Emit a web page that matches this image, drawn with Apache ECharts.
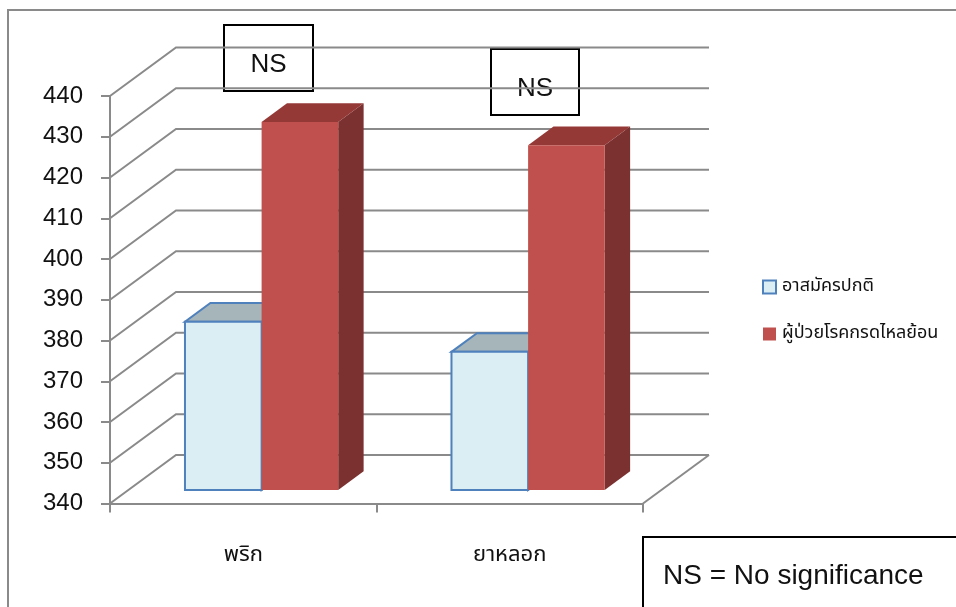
<!DOCTYPE html>
<html>
<head>
<meta charset="utf-8">
<script src="https://cdn.jsdelivr.net/npm/echarts@6/dist/echarts.min.js"></script>
<style>html,body{margin:0;padding:0;background:#fff}#c{width:956px;height:607px}</style>
</head>
<body>
<div id="c"></div>
<script>
// ---- data ----
const categories = ['พริก', 'ยาหลอก'];
const seriesNames = ['อาสมัครปกติ', 'ผู้ป่วยโรคกรดไหลย้อน'];
const normalValues = [381.3, 373.9];
const refluxValues = [430.3, 424.6];
const yTicks = [340, 350, 360, 370, 380, 390, 400, 410, 420, 430, 440];
const nsLabels = ['NS', 'NS'];
const noteText = 'NS = No significance';

// ---- style / layout ----
const DX = 66, DY = -48.5;          // depth of 3D box
const F0 = 0.278, FD = 0.385;       // bar front offset / bar depth (fraction of depth)
const BAR_FRAC = 0.2875;            // bar width / category band
const GRID_COLOR = '#8a8a8a';
const FONT = '"Liberation Sans", Arial, sans-serif';
const THAI = '"Noto Sans Thai", "Noto Sans", "DejaVu Sans", sans-serif';

const yMin = yTicks[0], yMax = yTicks[yTicks.length - 1];

function wallRender(params, api) {
  const v = api.value(1);
  const cs = params.coordSys;
  const y = api.coord([0, v])[1];
  const x0 = cs.x, x1 = cs.x + cs.width;
  const children = [{
    type: 'polyline',
    shape: { points: [[x0, y], [x0 + DX, y + DY], [x1 + DX, y + DY]] },
    style: { stroke: GRID_COLOR, lineWidth: 2, fill: null }
  }];
  if (v === yMin) {
    children.push({
      type: 'line',
      shape: { x1: x1, y1: y, x2: x1 + DX, y2: y + DY },
      style: { stroke: GRID_COLOR, lineWidth: 2 }
    });
  }
  return { type: 'group', children: children };
}

function barRender(side, colors) {
  return function (params, api) {
    const ci = api.value(0), v = api.value(1);
    const c = api.coord([ci, v]);
    const base = api.coord([ci, yMin]);
    const band = api.size([1, 0])[0];
    const bw = band * BAR_FRAC;
    const sx = DX * F0, sy = DY * F0;
    const dx = DX * FD, dy = DY * FD;
    const xl = (side === 0 ? c[0] - bw : c[0]) + sx;
    const xr = xl + bw;
    const top = c[1] + sy, bot = base[1] + sy;
    return {
      type: 'group',
      children: [
        { type: 'polygon', shape: { points: [[xr, top], [xr + dx, top + dy], [xr + dx, bot + dy], [xr, bot]] },
          style: { fill: colors.side, stroke: colors.stroke, lineWidth: colors.lw } },
        { type: 'polygon', shape: { points: [[xl, top], [xr, top], [xr + dx, top + dy], [xl + dx, top + dy]] },
          style: { fill: colors.top, stroke: colors.stroke, lineWidth: colors.lw } },
        { type: 'rect', shape: { x: xl, y: top, width: bw, height: bot - top },
          style: { fill: colors.front, stroke: colors.stroke, lineWidth: colors.lw } }
      ]
    };
  };
}

const blueColors = { front: '#DBEEF4', top: '#A5B5BA', side: '#B7C9CF', stroke: '#4F81BD', lw: 2 };
const redColors = { front: '#C0504D', top: '#953937', side: '#7A3130', stroke: null, lw: 0 };

const chart = echarts.init(document.getElementById('c'), null, { renderer: 'canvas' });
chart.setOption({
  animation: false,
  backgroundColor: '#fff',
  grid: { left: 110, top: 96, width: 533, height: 407.5, containLabel: false },
  xAxis: {
    type: 'category',
    data: categories,
    boundaryGap: true,
    axisLine: { lineStyle: { color: GRID_COLOR, width: 2 } },
    axisTick: { show: true, length: 9, lineStyle: { color: GRID_COLOR, width: 2 } },
    axisLabel: { margin: 42, fontSize: 22, color: '#111', fontFamily: THAI },
    splitLine: { show: false }
  },
  yAxis: {
    type: 'value',
    min: yMin, max: yMax, interval: 10,
    axisLine: { show: true, lineStyle: { color: GRID_COLOR, width: 2 } },
    axisTick: { show: true, length: 9, lineStyle: { color: GRID_COLOR, width: 2 } },
    axisLabel: { margin: 27, fontSize: 24, color: '#111', fontFamily: FONT },
    splitLine: { show: false }
  },
  legend: {
    orient: 'vertical',
    left: 762, top: 278, padding: 0,
    itemWidth: 13, itemHeight: 13, itemGap: 29,
    icon: 'rect',
    textStyle: { fontSize: 18, color: '#111', fontFamily: THAI, padding: [0, 0, 0, 1] },
    data: [
      { name: seriesNames[0], itemStyle: { color: '#DBEEF4', borderColor: '#4F81BD', borderWidth: 2 } },
      { name: seriesNames[1], itemStyle: { color: '#C0504D', borderWidth: 0 } }
    ]
  },
  series: [
    {
      type: 'custom', name: 'walls', clip: false, silent: true, z: 1,
      data: yTicks.map(function (t) { return [0, t]; }),
      encode: { x: 0, y: 1 },
      renderItem: wallRender
    },
    {
      type: 'custom', name: seriesNames[0], clip: false, z: 2,
      itemStyle: { color: '#DBEEF4', borderColor: '#4F81BD' },
      data: normalValues.map(function (v, i) { return [i, v]; }),
      encode: { x: 0, y: 1 },
      renderItem: barRender(0, blueColors)
    },
    {
      type: 'custom', name: seriesNames[1], clip: false, z: 3,
      itemStyle: { color: '#C0504D' },
      data: refluxValues.map(function (v, i) { return [i, v]; }),
      encode: { x: 0, y: 1 },
      renderItem: barRender(1, redColors)
    }
  ],
  graphic: [
    { type: 'rect', z: 0, silent: true, shape: { x: 8, y: 10, width: 1000, height: 700 },
      style: { fill: null, stroke: '#8a8a8a', lineWidth: 2 } },
    { type: 'group', z: 100, children: [
      { type: 'rect', shape: { x: 224, y: 25, width: 89, height: 66 }, style: { fill: '#fff', stroke: '#000', lineWidth: 2 } },
      { type: 'text', x: 268.5, y: 65, style: { text: nsLabels[0], fontSize: 26, fontFamily: FONT, fill: '#111', align: 'center', verticalAlign: 'middle' } },
      { type: 'rect', shape: { x: 491, y: 49, width: 88, height: 66 }, style: { fill: '#fff', stroke: '#000', lineWidth: 2 } },
      { type: 'text', x: 535, y: 89, style: { text: nsLabels[1], fontSize: 26, fontFamily: FONT, fill: '#111', align: 'center', verticalAlign: 'middle' } },
      { type: 'rect', shape: { x: 643, y: 537, width: 400, height: 120 }, style: { fill: '#fff', stroke: '#000', lineWidth: 2 } },
      { type: 'text', x: 663, y: 576, style: { text: noteText, fontSize: 28, fontFamily: FONT, fill: '#111', align: 'left', verticalAlign: 'middle' } }
    ]}
  ]
});
</script>
</body>
</html>
